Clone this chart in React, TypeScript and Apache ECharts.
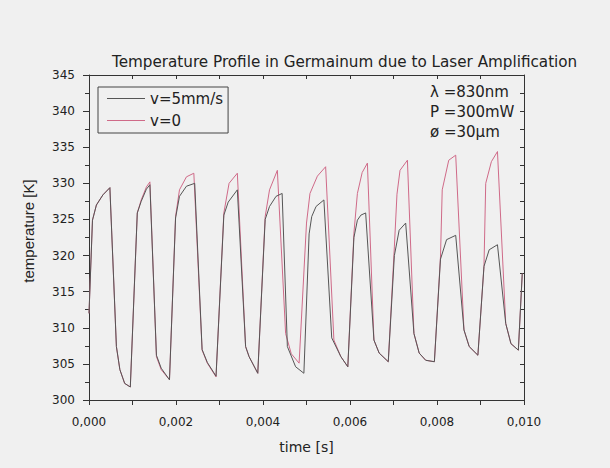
import React, { useEffect, useRef } from "react";
import * as echarts from "echarts";

// time in milliseconds, temperature in K
const timeV5 = [0, 0.08, 0.17, 0.32, 0.48, 0.63, 0.71, 0.82, 0.95, 1.11, 1.2, 1.32, 1.4, 1.55, 1.66, 1.85, 1.99, 2.08, 2.24, 2.43, 2.6, 2.72, 2.92, 3.1, 3.2, 3.41, 3.6, 3.68, 3.88, 4.05, 4.15, 4.3, 4.44, 4.56, 4.75, 4.94, 5.06, 5.12, 5.22, 5.4, 5.58, 5.79, 5.95, 6.09, 6.17, 6.25, 6.36, 6.55, 6.67, 6.88, 7.02, 7.13, 7.28, 7.47, 7.59, 7.74, 7.94, 8.08, 8.22, 8.43, 8.62, 8.74, 8.94, 9.08, 9.2, 9.39, 9.58, 9.7, 9.87, 9.96];
const tempV5 = [312.0, 324.9, 327.0, 328.4, 329.4, 307.4, 304.2, 302.3, 301.8, 325.9, 327.5, 329.2, 329.8, 306.2, 304.4, 302.8, 325.2, 328.2, 329.6, 330.0, 307.0, 305.2, 303.3, 325.6, 327.4, 329.1, 307.4, 306.0, 303.7, 325.0, 326.8, 328.2, 328.6, 307.4, 304.6, 303.7, 323.0, 325.4, 326.8, 327.7, 308.6, 306.0, 304.6, 322.5, 324.9, 325.6, 325.9, 308.3, 306.5, 305.3, 320.0, 323.5, 324.5, 309.2, 306.5, 305.5, 305.3, 319.5, 322.2, 322.8, 309.7, 307.4, 306.2, 318.5, 320.8, 321.5, 310.6, 307.8, 306.9, 317.5];

const timeV0 = [0, 0.08, 0.17, 0.32, 0.48, 0.63, 0.71, 0.82, 0.95, 1.11, 1.2, 1.32, 1.4, 1.55, 1.66, 1.85, 1.99, 2.08, 2.24, 2.41, 2.6, 2.72, 2.92, 3.1, 3.22, 3.41, 3.6, 3.68, 3.88, 4.05, 4.15, 4.33, 4.52, 4.65, 4.83, 5.0, 5.08, 5.25, 5.44, 5.63, 5.79, 5.95, 6.09, 6.17, 6.28, 6.4, 6.55, 6.67, 6.88, 7.02, 7.08, 7.15, 7.32, 7.47, 7.59, 7.74, 7.94, 8.08, 8.12, 8.27, 8.43, 8.62, 8.74, 8.94, 9.08, 9.12, 9.25, 9.39, 9.58, 9.7, 9.87, 9.96];
const tempV0 = [312.0, 324.9, 327.0, 328.4, 329.4, 307.4, 304.2, 302.3, 301.8, 325.9, 327.7, 329.5, 330.2, 306.0, 304.2, 302.8, 325.4, 329.1, 330.9, 331.4, 306.9, 305.1, 303.2, 325.9, 330.0, 331.4, 307.4, 306.0, 303.7, 325.4, 329.1, 331.8, 309.2, 306.4, 305.1, 324.5, 328.6, 331.0, 332.3, 308.3, 306.0, 304.6, 323.1, 328.6, 331.5, 332.8, 308.3, 306.5, 305.3, 321.2, 328.5, 331.8, 333.2, 309.2, 306.5, 305.5, 305.3, 319.8, 329.1, 333.2, 333.9, 309.7, 307.4, 306.2, 318.5, 330.0, 333.0, 334.4, 310.6, 307.8, 306.9, 317.5];

const seriesNames = ["v=5mm/s", "v=0"];
const annotations = ["λ =830nm", "P =300mW", "ø =30μm"];
const titleText = "Temperature Profile in Germainum due to Laser Amplification";

const FONT = "DejaVu Sans";
const AX = "#333";

export default function App() {
  const ref = useRef<HTMLDivElement>(null);
  useEffect(() => {
    const chart = echarts.init(ref.current!, undefined, { renderer: "svg" });
    const axisLine = { show: true, onZero: false, lineStyle: { color: AX, width: 1 } };
    const fmtX = (v: number) => (v / 1000).toFixed(3).replace(".", ",");
    chart.setOption({
      animation: false,
      backgroundColor: "#f0f0f0",
      textStyle: { fontFamily: FONT },
      title: {
        text: titleText,
        left: 112,
        top: 54,
        padding: 0,
        textStyle: { fontSize: 15.2, fontWeight: "normal", color: "#222", fontFamily: FONT },
      },
      legend: {
        data: seriesNames,
        orient: "vertical",
        left: 98,
        top: 87,
        padding: [4, 5, 5, 9],
        icon: "rect",
        itemWidth: 38,
        itemHeight: 1,
        itemGap: 7,
        borderColor: "#444",
        borderWidth: 1,
        textStyle: { fontSize: 15, lineHeight: 14, color: "#222", fontFamily: FONT },
      },
      grid: { left: 89, top: 75, width: 435, height: 325 },
      xAxis: [
        {
          type: "value",
          min: 0,
          max: 10,
          interval: 2,
          position: "bottom",
          axisLine,
          axisTick: { show: true, length: 5, inside: false, lineStyle: { color: AX } },
          minorTick: { show: true, splitNumber: 2, length: 5, lineStyle: { color: AX } },
          axisLabel: { margin: 16, fontSize: 12, color: "#222", fontFamily: FONT, formatter: fmtX },
          splitLine: { show: false },
          name: "time [s]",
          nameLocation: "middle",
          nameGap: 40,
          nameTextStyle: { fontSize: 14, color: "#222", fontFamily: FONT },
        },
        {
          type: "value",
          min: 0,
          max: 10,
          interval: 2,
          position: "top",
          axisLine,
          axisTick: { show: true, length: 4, inside: true, lineStyle: { color: AX } },
          minorTick: { show: true, splitNumber: 2, length: 4, lineStyle: { color: AX } },
          axisLabel: { show: false },
          splitLine: { show: false },
        },
      ],
      yAxis: [
        {
          type: "value",
          min: 300,
          max: 345,
          interval: 5,
          position: "left",
          axisLine,
          axisTick: { show: true, length: 6, inside: false, lineStyle: { color: AX } },
          minorTick: { show: true, splitNumber: 2, length: 4, lineStyle: { color: AX } },
          axisLabel: { margin: 14, fontSize: 12, color: "#222", fontFamily: FONT },
          splitLine: { show: false },
        },
        {
          type: "value",
          min: 300,
          max: 345,
          interval: 5,
          position: "right",
          axisLine,
          axisTick: { show: true, length: 4, inside: true, lineStyle: { color: AX } },
          minorTick: { show: true, splitNumber: 2, length: 4, lineStyle: { color: AX } },
          axisLabel: { show: false },
          splitLine: { show: false },
        },
      ],
      graphic: [
        {
          type: "text",
          x: 28,
          y: 231,
          rotation: Math.PI / 2,
          style: {
            text: "temperature [K]",
            align: "center",
            verticalAlign: "middle",
            fontSize: 15,
            fontFamily: "Liberation Sans",
            fill: "#222",
          },
        },
        ...annotations.map((t, i) => ({
          type: "text",
          x: 430,
          y: 92 + i * 20,
          style: { text: t, verticalAlign: "middle", fontSize: 15, fontFamily: FONT, fill: "#222" },
        })),
      ],
      series: [
        {
          name: seriesNames[1],
          type: "line",
          xAxisIndex: 0,
          yAxisIndex: 0,
          symbol: "none",
          data: timeV0.map((t, i) => [t, tempV0[i]]),
          lineStyle: { color: "#cf6a88", width: 1 },
          itemStyle: { color: "#cf6a88" },
        },
        {
          name: seriesNames[0],
          type: "line",
          xAxisIndex: 0,
          yAxisIndex: 0,
          symbol: "none",
          data: timeV5.map((t, i) => [t, tempV5[i]]),
          lineStyle: { color: "#555", width: 1 },
          itemStyle: { color: "#555" },
        },
      ],
    });
    return () => chart.dispose();
  }, []);
  return <div ref={ref} style={{ position: "fixed", left: 0, top: 0, width: 610, height: 468 }} />;
}
